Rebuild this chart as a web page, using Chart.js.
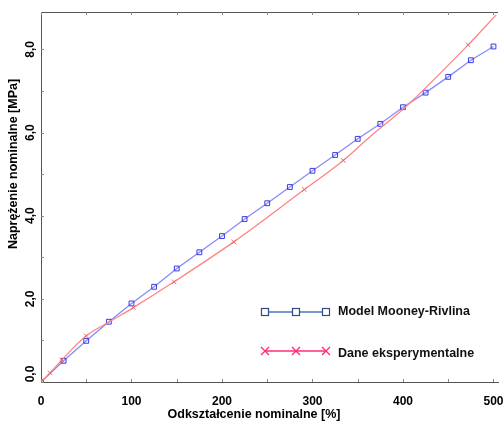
<!DOCTYPE html>
<html>
<head>
<meta charset="utf-8">
<script src="https://cdn.jsdelivr.net/npm/chart.js@4.4.1/dist/chart.umd.min.js"></script>
<style>
  html, body { margin: 0; padding: 0; background: #fff; overflow: hidden; }
  #wrap { position: relative; width: 503px; height: 422px; }
</style>
</head>
<body>
<div id="wrap"><canvas id="stress_chart"></canvas></div>
<script>
// Mooney-Rivlin model, every 25 %
var model_strain = [0, 25, 50, 75, 100, 125, 150, 175, 200, 225, 250, 275, 300, 325, 350, 375, 400, 425, 450, 475, 500];
var model_stress = [0, 0.51, 0.99, 1.45, 1.89, 2.29, 2.73, 3.12, 3.51, 3.92, 4.30, 4.69, 5.08, 5.46, 5.85, 6.21, 6.61, 6.96, 7.34, 7.74, 8.07];

// measured curve
var test_strain = [0, 10, 23, 50, 75, 102, 147, 213, 291, 334, 362, 403, 472, 503];
var test_stress = [0, 0.22, 0.53, 1.11, 1.44, 1.79, 2.41, 3.37, 4.63, 5.33, 5.87, 6.62, 8.11, 8.83];
var test_marked = [0, 1, 1, 1, 0, 1, 1, 1, 1, 1, 0, 0, 1, 0];

var x_ticks = [0, 100, 200, 300, 400, 500];
var y_ticks = [0, 2, 4, 6, 8];

var legend_names = ["Model Mooney-Rivlina", "Dane eksperymentalne"];
var x_title = "Odkształcenie nominalne [%]";
var y_title = "Naprężenie nominalne [MPa]";

var FAMILY = "'Liberation Sans', Arial, sans-serif";
var FONT = "bold 12px " + FAMILY;
var TITLE_FONT = "bold 12.5px " + FAMILY;

function toPoints(xs, ys) {
    var out = [];
    for (var i = 0; i < xs.length; i++) {
        out.push({x: xs[i], y: ys[i]});
    }
    return out;
}

function decimalComma(v) {
    return v.toFixed(1).replace(".", ",");
}

// axis frame, inner ticks, rotated y labels, titles and the legend box
var decorations = {
    id: "decorations",
    afterDraw: function(chart) {
        const ctx = chart.ctx;
        const area = chart.chartArea;
        const xs = chart.scales.x;
        const ys = chart.scales.y;

        ctx.save();
        ctx.strokeStyle = "#555555";
        ctx.lineWidth = 1;
        ctx.beginPath();
        ctx.moveTo(area.left, area.top + 0.5);
        ctx.lineTo(area.right, area.top + 0.5);
        ctx.stroke();

        ctx.strokeStyle = "#888888";
        ctx.beginPath();
        xs.ticks.forEach(function(t) {
            let px = Math.round(xs.getPixelForValue(t.value)) + 0.5;
            ctx.moveTo(px, area.bottom);
            ctx.lineTo(px, area.bottom - 3);
            ctx.moveTo(px, area.top);
            ctx.lineTo(px, area.top + 3);
        });
        ys.ticks.forEach(function(t) {
            let py = Math.round(ys.getPixelForValue(t.value)) + 0.5;
            ctx.moveTo(area.left, py);
            ctx.lineTo(area.left + 3, py);
        });
        ctx.stroke();

        ctx.fillStyle = "#000000";
        ctx.font = FONT;
        ctx.textAlign = "center";
        ctx.textBaseline = "middle";
        y_ticks.forEach(function(v) {
            // the bottom label is kept clear of the x axis
            let py = Math.min(ys.getPixelForValue(v), area.bottom - 8);
            ctx.save();
            ctx.translate(31, py);
            ctx.rotate(-Math.PI / 2);
            ctx.fillText(decimalComma(v), 0, 0);
            ctx.restore();
        });

        ctx.font = TITLE_FONT;
        ctx.fillText(x_title, 254, 415);
        ctx.save();
        ctx.translate(14, 164);
        ctx.rotate(-Math.PI / 2);
        ctx.fillText(y_title, 0, 0);
        ctx.restore();

        // legend
        const lx = [265, 296, 326];
        const rows = [
            {y: 312, line: "#4f78b8", mark: "#2f4a86", style: "rect"},
            {y: 351, line: "#ff2a7a", mark: "#ff2a7a", style: "cross"}
        ];
        rows.forEach(function(r, i) {
            ctx.strokeStyle = r.line;
            ctx.lineWidth = 1.5;
            ctx.beginPath();
            ctx.moveTo(lx[0], r.y);
            ctx.lineTo(lx[2], r.y);
            ctx.stroke();
            lx.forEach(function(px) {
                if (r.style === "rect") {
                    ctx.fillStyle = "#ffffff";
                    ctx.fillRect(px - 3.5, r.y - 3.5, 7, 7);
                    ctx.strokeStyle = r.mark;
                    ctx.lineWidth = 1.2;
                    ctx.strokeRect(px - 3.5, r.y - 3.5, 7, 7);
                } else {
                    ctx.strokeStyle = r.mark;
                    ctx.lineWidth = 1.3;
                    ctx.beginPath();
                    ctx.moveTo(px - 4, r.y - 4); ctx.lineTo(px + 4, r.y + 4);
                    ctx.moveTo(px - 4, r.y + 4); ctx.lineTo(px + 4, r.y - 4);
                    ctx.stroke();
                }
            });
            ctx.fillStyle = "#111111";
            ctx.textAlign = "left";
            ctx.fillText(legend_names[i], 338, r.y + (i === 0 ? 0 : 3));
        });
        ctx.restore();
    }
};

var data = {
    datasets: [{
        label: legend_names[1],
        data: toPoints(test_strain, test_stress),
        borderColor: "#ff8585",
        borderWidth: 1.3,
        cubicInterpolationMode: "monotone",
        pointStyle: "crossRot",
        pointRadius: test_marked.map(function(m) { return m ? 3.2 : 0; }),
        pointBorderColor: "#e06a6a",
        pointBorderWidth: 1,
        fill: false
    }, {
        label: legend_names[0],
        data: toPoints(model_strain, model_stress),
        borderColor: "#8a8aff",
        borderWidth: 1.3,
        tension: 0,
        pointStyle: "rect",
        pointRadius: 3.4,
        pointBackgroundColor: "rgba(255,255,255,0)",
        pointBorderColor: "#3a3ae0",
        pointBorderWidth: 1,
        fill: false
    }]
};

var options = {
    responsive: true,
    maintainAspectRatio: false,
    animation: false,
    layout: {
        padding: {top: 12, left: 0, right: 0, bottom: 0}
    },
    plugins: {
        legend: {display: false},
        tooltip: {enabled: false}
    },
    scales: {
        x: {
            type: "linear",
            min: 0,
            max: 505,
            afterFit: function(scale) {
                scale.height = 40;
                scale.paddingLeft = 0;
                scale.paddingRight = 0;
            },
            grid: {display: true, drawOnChartArea: false, drawTicks: false},
            border: {display: true, color: "#555555", width: 1},
            ticks: {
                stepSize: 50,
                includeBounds: false,
                autoSkip: false,
                maxRotation: 0,
                padding: 12,
                color: "#000000",
                font: {family: FAMILY, size: 12, weight: "bold"},
                callback: function(val) {
                    return x_ticks.indexOf(val) >= 0 ? String(val) : "";
                }
            }
        },
        y: {
            type: "linear",
            min: 0,
            max: 8.9,
            afterFit: function(scale) {
                scale.width = 41;
                scale.paddingTop = 0;
                scale.paddingBottom = 0;
            },
            grid: {display: true, drawOnChartArea: false, drawTicks: false},
            border: {display: true, color: "#555555", width: 1},
            ticks: {
                display: false,
                includeBounds: false,
                stepSize: 1
            }
        }
    }
};

var chart = new Chart(document.getElementById("stress_chart").getContext("2d"), {
    type: "line",
    data: data,
    options: options,
    plugins: [decorations]
});
</script>
</body>
</html>
